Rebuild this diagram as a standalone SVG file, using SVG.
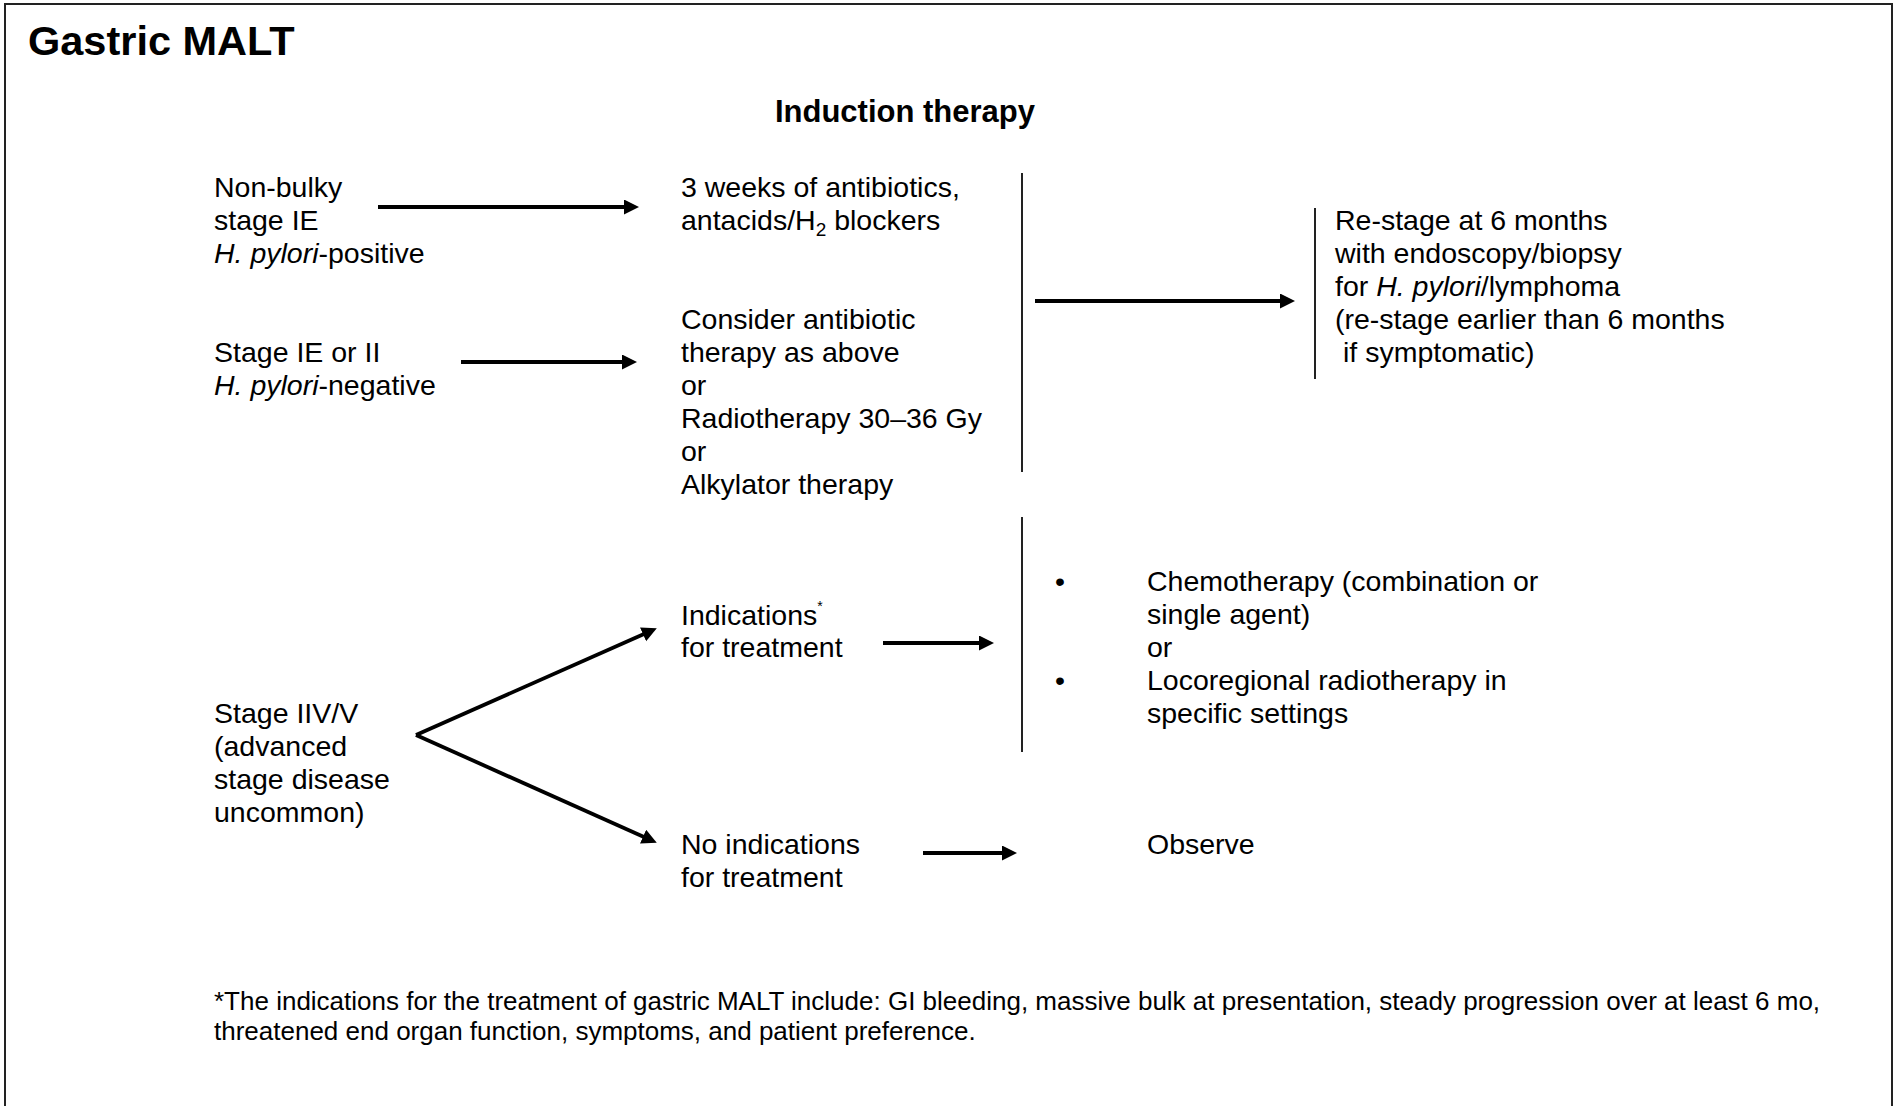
<svg xmlns="http://www.w3.org/2000/svg" width="1894" height="1106" viewBox="0 0 1894 1106">
  <style>
    text { font-family: "Liberation Sans", Arial, sans-serif; fill: #000; }
    .body { font-size: 28.5px; }
    .title { font-size: 41.5px; font-weight: bold; }
    .head { font-size: 31px; font-weight: bold; }
    .note { font-size: 26px; }
    .arrow { stroke: #000; stroke-width: 3.8; fill: none; marker-end: url(#head); }
    .bar { stroke: #222; stroke-width: 2; fill: none; }
    .frame { stroke: #222; stroke-width: 2; fill: none; }
  </style>
  <defs>
    <marker id="head" markerUnits="userSpaceOnUse" markerWidth="16" markerHeight="16" refX="1" refY="7.5" orient="auto">
      <path d="M0,0 L15,7.5 L0,15 z" fill="#000"/>
    </marker>
  </defs>

  <rect width="1894" height="1106" fill="#fff"/>
  <!-- outer frame, open at the bottom -->
  <path class="frame" d="M5,1106 V4 H1892 V1106"/>

  <text class="title" x="28" y="55">Gastric MALT</text>
  <text class="head" x="905" y="122" text-anchor="middle">Induction therapy</text>

  <g id="connectors">
    <line class="arrow" x1="378" y1="207" x2="625" y2="207"/>
    <line class="arrow" x1="461" y1="362" x2="623" y2="362"/>
    <line class="bar" x1="1022" y1="173" x2="1022" y2="472"/>
    <line class="arrow" x1="1035" y1="301" x2="1281" y2="301"/>
    <line class="bar" x1="1315" y1="208" x2="1315" y2="379"/>
    <line class="arrow" x1="416" y1="735" x2="644" y2="634"/>
    <line class="arrow" x1="416" y1="735" x2="644" y2="837"/>
    <line class="arrow" x1="883" y1="643" x2="980" y2="643"/>
    <line class="bar" x1="1022" y1="517" x2="1022" y2="752"/>
    <line class="arrow" x1="923" y1="853" x2="1003" y2="853"/>
  </g>

  <g id="node-nonbulky">
    <text class="body" x="214" y="197">Non-bulky</text>
    <text class="body" x="214" y="230">stage IE</text>
    <text class="body" x="214" y="263"><tspan font-style="italic">H. pylori</tspan>-positive</text>
  </g>

  <g id="node-stage-ie-ii">
    <text class="body" x="214" y="362">Stage IE or II</text>
    <text class="body" x="214" y="395"><tspan font-style="italic">H. pylori</tspan>-negative</text>
  </g>

  <g id="node-stage-iv">
    <text class="body" x="214" y="723">Stage IIV/V</text>
    <text class="body" x="214" y="756">(advanced</text>
    <text class="body" x="214" y="789">stage disease</text>
    <text class="body" x="214" y="822">uncommon)</text>
  </g>

  <g id="node-antibiotics">
    <text class="body" x="681" y="197">3 weeks of antibiotics,</text>
    <text class="body" x="681" y="230">antacids/H<tspan font-size="19" dy="6">2</tspan><tspan dy="-6"> blockers</tspan></text>
  </g>

  <g id="node-options">
    <text class="body" x="681" y="329">Consider antibiotic</text>
    <text class="body" x="681" y="362">therapy as above</text>
    <text class="body" x="681" y="395">or</text>
    <text class="body" x="681" y="428">Radiotherapy 30–36 Gy</text>
    <text class="body" x="681" y="461">or</text>
    <text class="body" x="681" y="494">Alkylator therapy</text>
  </g>

  <g id="node-restage">
    <text class="body" x="1335" y="230">Re-stage at 6 months</text>
    <text class="body" x="1335" y="263">with endoscopy/biopsy</text>
    <text class="body" x="1335" y="296">for <tspan font-style="italic">H. pylori</tspan>/lymphoma</text>
    <text class="body" x="1335" y="329">(re-stage earlier than 6 months</text>
    <text class="body" x="1343" y="362">if symptomatic)</text>
  </g>

  <g id="node-indications">
    <text class="body" x="681" y="625">Indications<tspan font-size="14" dy="-14">*</tspan></text>
    <text class="body" x="681" y="657">for treatment</text>
  </g>

  <g id="node-no-indications">
    <text class="body" x="681" y="854">No indications</text>
    <text class="body" x="681" y="887">for treatment</text>
  </g>

  <g id="node-treatment">
    <text class="body" x="1055" y="591">•</text>
    <text class="body" x="1147" y="591">Chemotherapy (combination or</text>
    <text class="body" x="1147" y="624">single agent)</text>
    <text class="body" x="1147" y="657">or</text>
    <text class="body" x="1055" y="690">•</text>
    <text class="body" x="1147" y="690">Locoregional radiotherapy in</text>
    <text class="body" x="1147" y="723">specific settings</text>
  </g>

  <g id="node-observe">
    <text class="body" x="1147" y="854">Observe</text>
  </g>

  <g id="footnote">
    <text class="note" x="214" y="1010">*The indications for the treatment of gastric MALT include: GI bleeding, massive bulk at presentation, steady progression over at least 6 mo,</text>
    <text class="note" x="214" y="1040">threatened end organ function, symptoms, and patient preference.</text>
  </g>
</svg>
